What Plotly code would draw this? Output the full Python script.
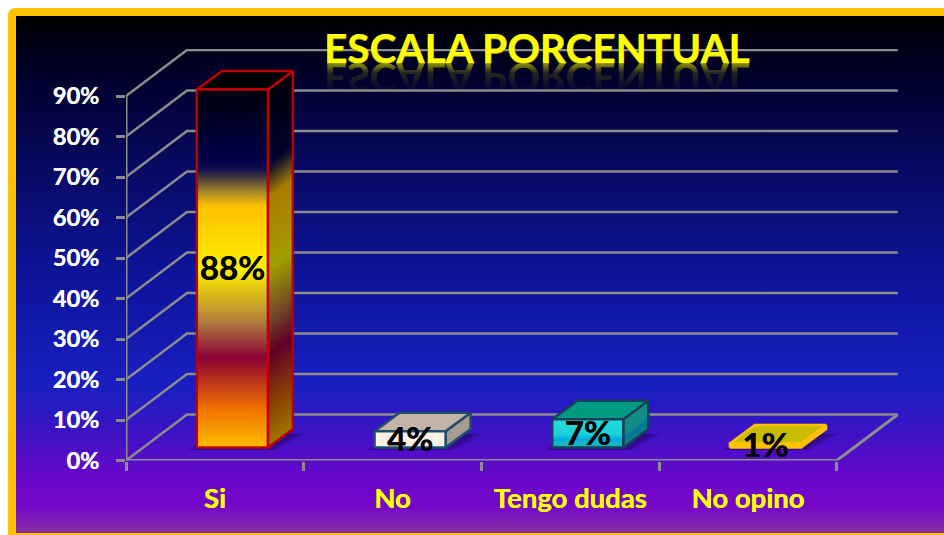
import plotly.graph_objects as go

# ---- data
categories = ["Si", "No", "Tengo dudas", "No opino"]
values = [88.4, 4, 7, 1]
value_labels = ["88%", "4%", "7%", "1%"]
y_ticks = [0, 10, 20, 30, 40, 50, 60, 70, 80, 90]
y_tick_labels = ["0%", "10%", "20%", "30%", "40%", "50%", "60%", "70%", "80%", "90%"]
title_text = "ESCALA PORCENTUAL"

# ---- geometry of the oblique projection, in axis units
PX_PER_CAT = 177.7
PX_PER_PCT = 4.05
WALL_DX = 61 / PX_PER_CAT
WALL_DY = 46 / PX_PER_PCT
BASE_DX = 17.5 / PX_PER_CAT
BASE_DY = 13 / PX_PER_PCT
BAR_DX = 25 / PX_PER_CAT
BAR_DY = 18.5 / PX_PER_PCT
BAR_W = 0.40
LABEL_DY = -3.5 / PX_PER_PCT
GRID = "#8c8c8c"

# ---- style per bar: gradient stops are (fraction from the top of the face, colour)
fire = [(0, "#00000c"), (.2, "#00004a"), (.225, "#14124c"), (.285, "#a08428"), (.325, "#ffc000"),
        (.43, "#ffdc00"), (.5, "#fff200"), (.55, "#e6cc10"), (.65, "#b07c40"), (.75, "#8c0034"),
        (.89, "#f07000"), (1, "#ffbc00")]
fire_side = [(0, "#00000a"), (.2, "#00002e"), (.225, "#1c1a28"), (.30, "#a87c00"), (.43, "#a89000"),
             (.5, "#a0a000"), (.56, "#8c7a10"), (.65, "#70402a"), (.74, "#600028"), (.89, "#8c4400"), (1, "#a07800")]
styles = [
    dict(face=fire, side=fire_side, top="#000000", edge="#c00000", strips=160),
    dict(face=[(0, "#fff0e6"), (1, "#fff0e6")], side=[(0, "#a89c92"), (1, "#a89c92")],
         top="#c4b4a8", edge="#1f4e6b", strips=1),
    dict(face=[(0, "#22dcdc"), (.55, "#1cd0d8"), (.72, "#00a8e0"), (.85, "#18b8c8"), (1, "#10a8b0")],
         side=[(0, "#10907e"), (.5, "#108a88"), (.72, "#0070a0"), (.85, "#108088"), (1, "#108078")],
         top="#009a80", edge="#17405c", strips=12),
    dict(face=[(0, "#ffc800"), (1, "#ffc000")], side=[(0, "#e8b400"), (1, "#e8b400")],
         top="#c8bc00", edge="#ffc000", strips=1),
]
bg_stops = [(0, "#000000"), (.12, "#01012c"), (.3, "#080a64"), (.5, "#0e149a"), (.72, "#1a1fc2"),
            (.8, "#3a14c4"), (.9, "#6c06cc"), (.95, "#7508c8"), (1, "#8a30a0")]


def hex2rgb(c):
    return tuple(int(c[i:i + 2], 16) for i in (1, 3, 5))


def color_at(stops, f):
    for (a, ca), (b, cb) in zip(stops, stops[1:]):
        if f <= b:
            t = (f - a) / (b - a) if b > a else 0
            ra, rb = hex2rgb(ca), hex2rgb(cb)
            return "rgb(%d,%d,%d)" % tuple(round(p + (q - p) * t) for p, q in zip(ra, rb))
    return stops[-1][1]


def scale(stops):
    # plotly's vertical gradient: position 0 is the bottom of the screen
    return [[round(1 - f, 4), c] for f, c in reversed(stops)]


fig = go.Figure()

# full-page frame on the first pair of axes
fig.add_trace(go.Scatter(x=[16, 944, 944, 16, 16], y=[16, 16, 533, 533, 16], mode="lines", line=dict(width=0),
                         fill="toself", fillcolor="rgba(0,0,0,0)",
                         fillgradient=dict(type="vertical", colorscale=scale(bg_stops)),
                         hoverinfo="skip", showlegend=False, xaxis="x", yaxis="y"))


def poly(xs, ys, fill=None, line=None, lw=2.5, grad=None):
    kw = dict(x=list(xs) + [xs[0]], y=list(ys) + [ys[0]], mode="lines", hoverinfo="skip", showlegend=False,
              xaxis="x2", yaxis="y2")
    kw["line"] = dict(color=line or "rgba(0,0,0,0)", width=lw if line else 0, shape="linear")
    if fill or grad:
        kw["fill"] = "toself"
        kw["fillcolor"] = fill or "rgba(0,0,0,0)"
    if grad:
        kw["fillgradient"] = dict(type="vertical", colorscale=grad)
    fig.add_trace(go.Scatter(**kw))


def line(xs, ys, width=2.5):
    fig.add_trace(go.Scatter(x=xs, y=ys, mode="lines", line=dict(color=GRID, width=width), hoverinfo="skip",
                             showlegend=False, xaxis="x2", yaxis="y2"))


# walls and floor
x_end = len(categories)
for v in y_ticks:
    line([0, WALL_DX, x_end + WALL_DX], [v, v + WALL_DY, v + WALL_DY])
line([0, 0], [y_ticks[0], y_ticks[-1]], 3)
line([0, x_end, x_end + WALL_DX], [0, 0, WALL_DY], 3)

# bars
for i, (val, st) in enumerate(zip(values, styles)):
    x0 = i + 0.5 - BAR_W / 2 + BASE_DX
    x1 = x0 + BAR_W
    b = BASE_DY
    t = b + val
    # soft floor shadow
    for grow, alpha in ((.05, .22), (.025, .3)):
        poly([x0 - grow, x1 + grow, x1 + BAR_DX + grow * 1.4, x0 + BAR_DX - grow],
             [b - .6, b - .6, b + BAR_DY * .75, b + BAR_DY * .75], fill="rgba(30,0,80,%.2f)" % alpha)
    # side face, painted top to bottom
    n = st["strips"]
    for k in range(n):
        f = k / n
        y = t - (t - b) * f
        poly([x1, x1 + BAR_DX, x1 + BAR_DX, x1], [y, y + BAR_DY, b + BAR_DY, b], fill=color_at(st["side"], f))
    poly([x1, x1 + BAR_DX, x1 + BAR_DX, x1], [t, t + BAR_DY, b + BAR_DY, b], line=st["edge"])
    # top face
    poly([x0, x1, x1 + BAR_DX, x0 + BAR_DX], [t, t, t + BAR_DY, t + BAR_DY], fill=st["top"], line=st["edge"])
    # front face
    poly([x0, x1, x1, x0], [b, b, t, t], line=st["edge"], fill="rgba(0,0,0,0)", grad=scale(st["face"]))

# value labels
fig.add_trace(go.Scatter(
    x=[i + 0.5 + BASE_DX for i in range(len(values))], y=[BASE_DY + v / 2 + LABEL_DY for v in values],
    mode="text", text=value_labels, textposition="middle center",
    textfont=dict(family="Lato", size=33, color="#000000", weight="bold", shadow="0.4px 0 0 #000000"),
    hoverinfo="skip", showlegend=False, xaxis="x2", yaxis="y2", cliponaxis=False))

fig.update_layout(
    width=944, height=535, margin=dict(l=0, r=0, t=0, b=0, autoexpand=False), paper_bgcolor="#ffffff",
    plot_bgcolor="rgba(0,0,0,0)", showlegend=False, hovermode=False,
    xaxis=dict(domain=[0, 1], range=[0, 944], visible=False, fixedrange=True),
    yaxis=dict(domain=[0, 1], range=[535, 0], visible=False, fixedrange=True),
    xaxis2=dict(domain=[126 / 944, 899 / 944], range=[0, 773 / PX_PER_CAT], anchor="y2", showgrid=False, zeroline=False,
                automargin=False, tickmode="array", tickvals=[i + .5 for i in range(len(categories))],
                ticktext=categories, ticks="", ticklabelstandoff=19,
                tickfont=dict(family="Lato", size=27.5, color="#ffff00", weight="bold", shadow="0.3px 0 0 #ffff00"),
                minor=dict(tickmode="array", tickvals=list(range(len(categories) + 1)), ticks="outside",
                           ticklen=9, tickwidth=2.5, tickcolor=GRID, showgrid=False)),
    yaxis2=dict(domain=[(535 - 460.5) / 535, (535 - 49) / 535], range=[0, 411.5 / PX_PER_PCT], anchor="x2",
                automargin=False, showgrid=False, zeroline=False, tickmode="array", tickvals=y_ticks,
                ticktext=y_tick_labels, ticks="outside", ticklen=9, tickwidth=2.5, tickcolor=GRID, ticklabelstandoff=12,
                tickfont=dict(family="Lato", size=23.5, color="#ffffff", weight="bold", shadow="0.3px 0 0 #ffffff")),
    shapes=[dict(type="path", xref="x", yref="y", layer="below", fillcolor="#ffc000", line=dict(width=0),
                 path="M 8 16 Q 8 8 16 8 L 944 8 L 944 535 L 8 535 Z")],
    annotations=[dict(text=title_text, xref="paper", yref="paper", x=537 / 944, y=1 - 47.5 / 535, showarrow=False,
                      xanchor="center", yanchor="middle",
                      font=dict(family="Lato", size=40.5, color="#ffff00", weight="bold",
                                shadow="0px 1px 0px #9a9a00, 0.5px 0px 0px #b0b000"))],
)

post = """
(function(){
  document.body.style.margin='0';
  var gd=document.getElementById('{plot_id}');
  var t=gd.querySelector('.annotation-text');
  if(!t) return;
  var svg=t.ownerSVGElement, ns='http://www.w3.org/2000/svg';
  var defs=svg.querySelector('defs')||svg.insertBefore(document.createElementNS(ns,'defs'),svg.firstChild);
  var g=document.createElementNS(ns,'linearGradient');
  g.setAttribute('id','titlerefl');g.setAttribute('x1','0');g.setAttribute('y1','0');g.setAttribute('x2','0');g.setAttribute('y2','1');
  [['0.25','0'],['0.62','0.15'],['0.78','0.5']].forEach(function(s){
    var e=document.createElementNS(ns,'stop');e.setAttribute('offset',s[0]);e.setAttribute('stop-color','#ffff00');e.setAttribute('stop-opacity',s[1]);g.appendChild(e);
  });
  defs.appendChild(g);
  var c=t.cloneNode(true);
  c.setAttribute('class','title-reflection');
  c.style.fill='url(#titlerefl)';c.style.textShadow='none';
  c.setAttribute('aria-hidden','true');
  var base=62.5, inv=t.parentNode.getScreenCTM().inverse();
  var pt=svg.createSVGPoint();pt.x=0;pt.y=base;var p=pt.matrixTransform(inv);
  c.setAttribute('transform','translate(0,'+(2*p.y+1)+') scale(1,-1)');
  t.parentNode.insertBefore(c,t);
})();
"""
fig.write_html("out.html", post_script=post, config=dict(displayModeBar=False, responsive=False))
